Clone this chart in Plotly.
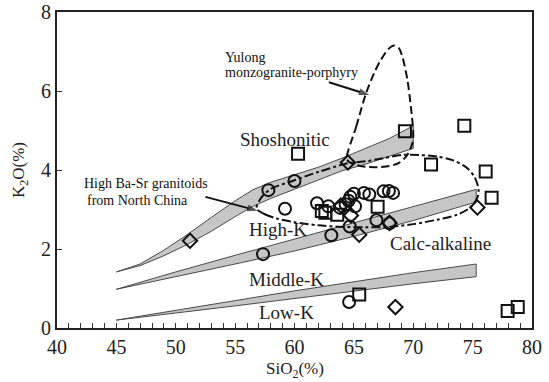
import plotly.graph_objects as go

# ---- series boundaries (SiO2 %, K2O %) ----
# Shoshonitic / High-K transition band
sho_up_x = [45.0, 47.0, 49.0, 51.0, 53.0, 55.0, 56.5, 58.0, 60.0, 62.0, 64.0, 66.0, 68.0, 70.0]
sho_up_y = [1.42, 1.62, 1.97, 2.37, 2.80, 3.22, 3.50, 3.69, 3.88, 4.07, 4.30, 4.55, 4.80, 5.12]
sho_lo_x = [70.0, 68.0, 66.0, 64.0, 62.0, 60.0, 58.0, 56.5, 55.0, 53.0, 51.0, 49.0, 47.0, 45.0]
sho_lo_y = [4.55, 4.35, 4.15, 3.98, 3.75, 3.52, 3.28, 3.08, 2.82, 2.45, 2.12, 1.83, 1.58, 1.42]

# High-K / Calc-alkaline transition band
hk_up_x = [45.0, 50.0, 55.0, 60.0, 65.0, 70.0, 75.3]
hk_up_y = [0.98, 1.42, 1.84, 2.25, 2.67, 3.08, 3.51]
hk_lo_x = [75.3, 70.0, 65.0, 60.0, 55.0, 50.0, 45.0]
hk_lo_y = [3.19, 2.72, 2.32, 1.95, 1.62, 1.30, 0.98]

# Calc-alkaline / Low-K transition band
lk_up_x = [45.0, 50.0, 55.0, 60.0, 65.0, 70.0, 75.3]
lk_up_y = [0.20, 0.45, 0.70, 0.94, 1.17, 1.40, 1.62]
lk_lo_x = [75.3, 70.0, 65.0, 60.0, 55.0, 50.0, 45.0]
lk_lo_y = [1.30, 1.12, 0.93, 0.75, 0.56, 0.38, 0.20]

# Yulong monzogranite-porphyry field
yulong_x = [64.4, 65.2, 66.0, 66.7, 67.2, 67.9, 68.4, 68.8, 69.1, 69.5, 69.8, 70.0, 69.95,
            69.5, 68.8, 68.0, 67.0, 66.0, 65.2, 64.6, 64.4]
yulong_y = [4.30, 5.10, 5.92, 6.45, 6.75, 7.06, 7.15, 7.08, 6.85, 6.30, 5.60, 4.95, 4.70,
            4.38, 4.18, 4.10, 4.07, 4.08, 4.13, 4.20, 4.30]

# High Ba-Sr granitoids from North China field
basr_x = [56.8, 57.5, 58.5, 60.0, 62.0, 64.0, 66.0, 68.0, 70.0, 72.0, 73.7, 74.8, 75.4, 75.5,
          75.2, 74.5, 73.3, 72.0, 70.5, 69.0, 67.5, 66.0, 64.5, 62.0, 60.0, 58.0, 57.2, 56.8]
basr_y = [3.02, 2.88, 2.77, 2.68, 2.60, 2.56, 2.55, 2.56, 2.63, 2.74, 2.87, 3.05, 3.30, 3.50,
          3.80, 4.06, 4.25, 4.34, 4.38, 4.38, 4.30, 4.22, 4.17, 3.95, 3.74, 3.52, 3.30, 3.02]

# ---- samples ----
circle_x = [57.8, 60.0, 59.2, 57.35, 63.1, 64.65, 66.9, 68.0, 64.6,
            61.9, 62.85, 63.85, 64.3, 64.55, 64.7, 65.0, 65.1, 65.85, 66.3, 67.5, 67.95, 68.3]
circle_y = [3.49, 3.72, 3.02, 1.87, 2.35, 2.57, 2.73, 2.65, 0.66,
            3.16, 3.08, 3.04, 3.13, 3.22, 3.32, 3.40, 3.08, 3.42, 3.38, 3.46, 3.47, 3.42]

square_x = [60.3, 69.3, 74.3, 71.5, 76.1, 76.6, 67.0, 62.3, 62.6, 63.6, 65.45, 77.95, 78.8]
square_y = [4.41, 4.98, 5.12, 4.14, 3.96, 3.30, 3.07, 2.96, 2.92, 2.87, 0.85, 0.43, 0.53]

diamond_x = [51.2, 64.5, 64.75, 65.45, 68.0, 75.4, 68.5, 63.9]
diamond_y = [2.21, 4.19, 2.85, 2.36, 2.66, 3.05, 0.53, 3.10]

# pointer arrows: tail -> head
arrow_yulong_x = [62.9, 66.3]
arrow_yulong_y = [6.22, 5.90]
arrow_basr_x = [52.5, 56.9]
arrow_basr_y = [3.32, 2.97]

# ---- text ----
x_ticks = [40, 45, 50, 55, 60, 65, 70, 75, 80]
y_ticks = [0, 2, 4, 6, 8]
series_labels = ["Shoshonitic", "High-K", "Calc-alkaline", "Middle-K", "Low-K"]
series_label_x = [59.2, 58.6, 72.3, 59.35, 59.3]
series_label_y = [4.77, 2.49, 2.13, 1.23, 0.38]

FONT = "Liberation Serif, Times New Roman, serif"
BAND_FILL = "#c6c6c6"
BAND_EDGE = "#4a4a4a"
INK = "#111"

W, H = 549, 382
M_L, M_R, M_T, M_B = 57, 17, 12, 54
PLOT_H = H - M_T - M_B

fig = go.Figure()


def add_band(ux, uy, lx, ly):
    fig.add_trace(go.Scatter(
        x=ux + lx + [ux[0]], y=uy + ly + [uy[0]],
        mode="lines", fill="toself", fillcolor=BAND_FILL,
        line=dict(color=BAND_EDGE, width=1), hoverinfo="skip", showlegend=False))


add_band(sho_up_x, sho_up_y, sho_lo_x, sho_lo_y)
add_band(hk_up_x, hk_up_y, hk_lo_x, hk_lo_y)
add_band(lk_up_x, lk_up_y, lk_lo_x, lk_lo_y)

fig.add_trace(go.Scatter(
    x=yulong_x, y=yulong_y, mode="lines",
    line=dict(color=INK, width=2, dash="8px,4px", shape="spline", smoothing=0.8),
    showlegend=False, hoverinfo="skip"))
fig.add_trace(go.Scatter(
    x=basr_x, y=basr_y, mode="lines",
    line=dict(color=INK, width=2, dash="9px,3px,3px,3px", shape="spline", smoothing=0.8),
    showlegend=False, hoverinfo="skip"))

marker_line = dict(color=INK, width=2)
fig.add_trace(go.Scatter(x=circle_x, y=circle_y, mode="markers",
                         marker=dict(symbol="circle-open", size=12, color=INK, line=marker_line),
                         showlegend=False))
fig.add_trace(go.Scatter(x=square_x, y=square_y, mode="markers",
                         marker=dict(symbol="square-open", size=12, color=INK, line=marker_line),
                         showlegend=False))
fig.add_trace(go.Scatter(x=diamond_x, y=diamond_y, mode="markers",
                         marker=dict(symbol="diamond-open", size=11, color=INK, line=marker_line),
                         showlegend=False))

# arrows drawn as a shaft with an arrowhead marker at the head end
for ax_, ay_ in [(arrow_yulong_x, arrow_yulong_y), (arrow_basr_x, arrow_basr_y)]:
    fig.add_trace(go.Scatter(
        x=ax_, y=ay_, mode="lines+markers",
        line=dict(color=INK, width=2),
        marker=dict(symbol="arrow", size=[0, 11], angleref="previous", color=INK,
                    line=dict(width=0)),
        showlegend=False, hoverinfo="skip"))

annotations = []
for txt, lx, ly in zip(series_labels, series_label_x, series_label_y):
    annotations.append(dict(x=lx, y=ly, xref="x", yref="y", text=txt, showarrow=False,
                            font=dict(family=FONT, size=19, color="#222")))

# field captions
cap_font = dict(family=FONT, size=14, color=INK)
annotations += [
    dict(x=53.97, y=6.85, xref="x", yref="y", text="Yulong", xanchor="left",
         showarrow=False, font=cap_font),
    dict(x=53.97, y=6.47, xref="x", yref="y", text="monzogranite-porphyry", xanchor="left",
         showarrow=False, font=cap_font),
    dict(x=42.1, y=3.66, xref="x", yref="y", text="High Ba-Sr granitoids", xanchor="left",
         showarrow=False, font=cap_font),
    dict(x=42.35, y=3.23, xref="x", yref="y", text="from North China", xanchor="left",
         showarrow=False, font=cap_font),
]

# axis titles
title_font = dict(family=FONT, size=17, color="#222")
annotations += [
    dict(x=0.5, xref="paper", y=-(370 - (H - M_B)) / PLOT_H, yref="paper",
         text="SiO<sub>2</sub>(%)", showarrow=False, xanchor="center", yanchor="middle",
         font=title_font),
    dict(x=-(M_L - 20) / (W - M_L - M_R), xref="paper", y=0.5, yref="paper",
         text="K<sub>2</sub>O(%)", textangle=-90, showarrow=False,
         xanchor="center", yanchor="middle", font=title_font),
]

fig.update_layout(
    width=W, height=H,
    margin=dict(l=M_L, r=M_R, t=M_T, b=M_B, autoexpand=False),
    paper_bgcolor="white", plot_bgcolor="white",
    font=dict(family=FONT, color="#222"),
    annotations=annotations,
    showlegend=False,
)
fig.update_xaxes(
    range=[40, 80], tickvals=x_ticks, ticks="inside", ticklen=5, tickwidth=1, tickcolor="#333",
    minor=dict(dtick=1, ticks="inside", ticklen=5, tickwidth=1, tickcolor="#333"),
    showline=True, linecolor="#222", linewidth=2, mirror=True, showgrid=False, zeroline=False,
    tickfont=dict(family=FONT, size=20, color="#222"), automargin=False,
)
fig.update_yaxes(
    range=[0, 8], tickvals=y_ticks, ticks="inside", ticklen=5, tickwidth=1, tickcolor="#333",
    showline=True, linecolor="#222", linewidth=2, mirror=True, showgrid=False, zeroline=False,
    tickfont=dict(family=FONT, size=20, color="#222"), automargin=False,
)

fig.write_html("out.html")
